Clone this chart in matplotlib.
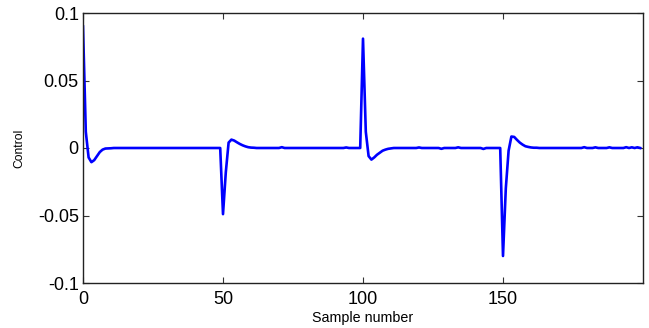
import matplotlib
matplotlib.use('Agg')
import matplotlib.pyplot as plt

# control signal, one value per sample
control = [
    0.090, 0.012, -0.007, -0.0105, -0.009, -0.006, -0.003, -0.0012, -0.0004, -0.0003,
    -0.0002, 0, 0, 0, 0, 0, 0, 0, 0, 0,
    0, 0, 0, 0, 0, 0, 0, 0, 0, 0,
    0, 0, 0, 0, 0, 0, 0, 0, 0, 0,
    0, 0, 0, 0, 0, 0, 0, 0, 0, 0,
    -0.049, -0.018, 0.004, 0.0062, 0.0055, 0.0042, 0.003, 0.002, 0.0012, 0.0006,
    0.0003, 0.0002, 0, 0, 0, 0, 0, 0, 0, 0,
    0, 0.0006, 0, 0, 0, 0, 0, 0, 0, 0,
    0, 0, 0, 0, 0, 0, 0, 0, 0, 0,
    0, 0, 0, 0, 0.0004, 0, 0, 0, 0, 0,
    0.081, 0.012, -0.006, -0.0086, -0.007, -0.005, -0.0035, -0.002, -0.0012, -0.0006,
    -0.0003, 0, 0, 0, 0, 0, 0, 0, 0, 0,
    0.0004, 0, 0, 0, 0, 0, 0, 0, -0.0006, 0,
    0, 0, 0, 0, 0.0005, 0, 0, 0, 0, 0,
    0, 0, 0, -0.0007, 0, 0, 0, 0, 0, 0,
    -0.080, -0.030, -0.002, 0.0085, 0.0082, 0.006, 0.004, 0.0025, 0.0013, 0.0008,
    0.0004, 0.0002, 0.0002, 0, 0, 0, 0, 0, 0, 0,
    0, 0, 0, 0, 0, 0, 0, 0, 0, 0.0006,
    0, 0, 0, 0.0005, 0, 0, 0, 0, 0.0005, 0,
    0, 0, 0, 0, 0.0006, 0, 0.0005, 0, 0.0005, 0,
]
samples = list(range(len(control)))

x_ticks = [0, 50, 100, 150]
y_ticks = [-0.1, -0.05, 0, 0.05, 0.1]
y_ticklabels = ['-0.1', '-0.05', '0', '0.05', '0.1']

plt.rcParams['font.family'] = ['Liberation Sans', 'DejaVu Sans']

fig = plt.figure(figsize=(6.49, 3.28), dpi=100)
ax = fig.add_axes([83 / 649, 45 / 328, 560 / 649, 270 / 328])

ax.plot(samples, control, color='#0000ff', lw=1.9, solid_joinstyle='round')

ax.set_xlim(0, 200)
ax.set_ylim(-0.1, 0.1)
ax.set_xticks(x_ticks)
ax.set_yticks(y_ticks)
ax.set_yticklabels(y_ticklabels)
ax.tick_params(direction='in', length=4, width=0.8, top=True, right=True,
               labelsize=13, color='#333333')
ax.tick_params(axis='x', pad=5.5)
ax.tick_params(axis='y', pad=3)
for s in ax.spines.values():
    s.set_linewidth(1.0)
    s.set_color('#222222')

ax.set_xlabel('Sample number', fontsize=10.3, labelpad=2.5)
ax.set_ylabel('Control', fontsize=8.7, labelpad=9)

fig.savefig('out.png', dpi=100)
